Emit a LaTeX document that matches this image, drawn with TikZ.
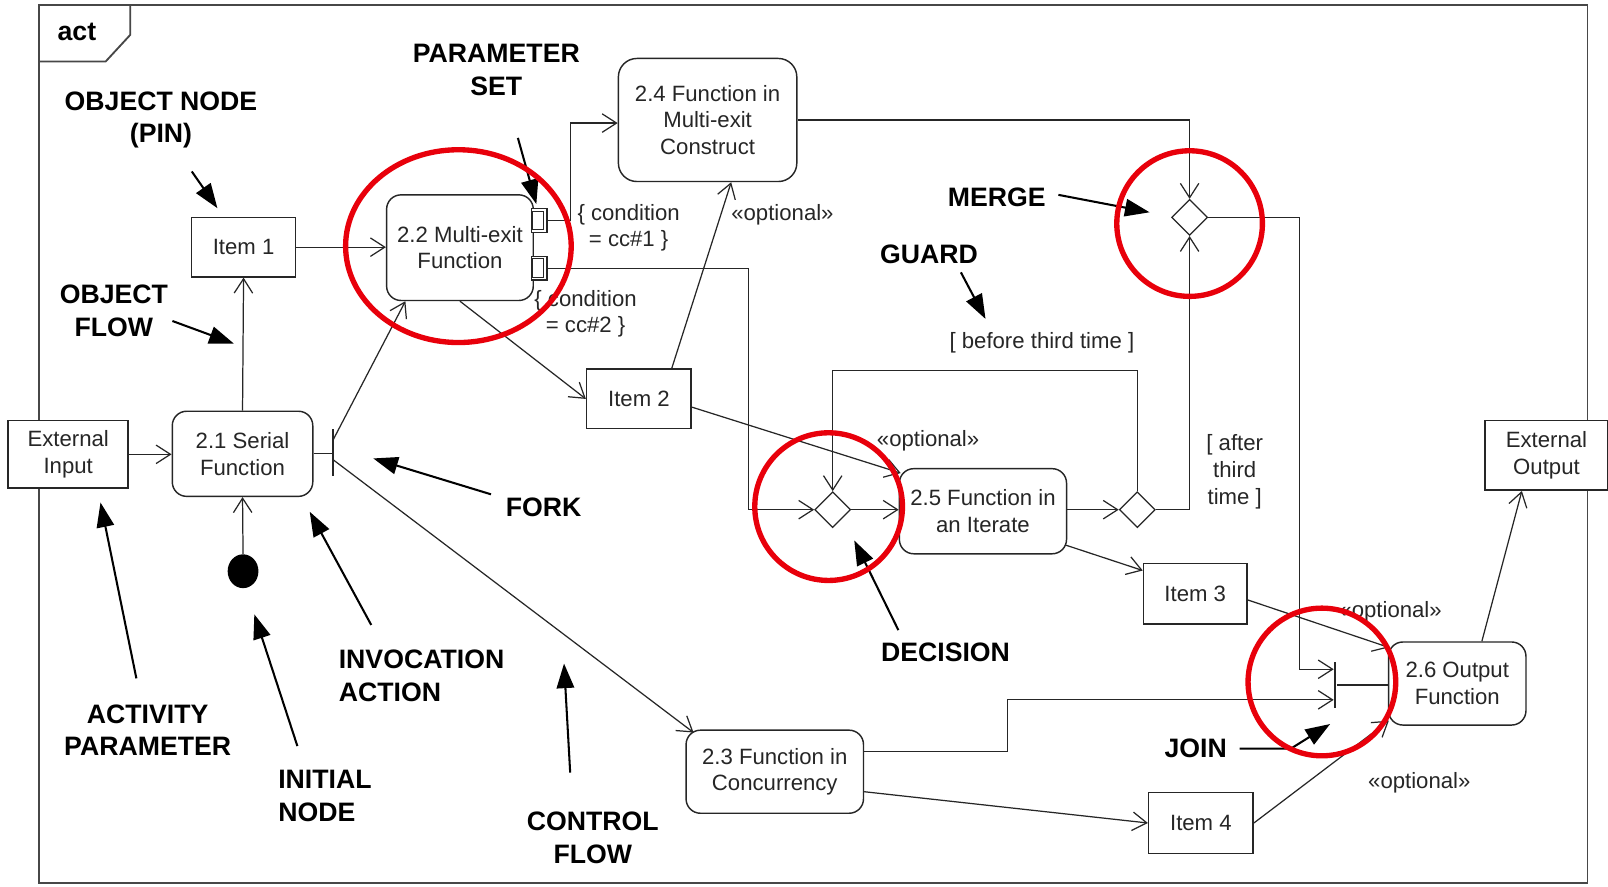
\documentclass[tikz,border=0pt]{standalone}
\usepackage{fontspec}
\setmainfont{Liberation Sans}
\usetikzlibrary{arrows.meta,shapes.geometric,calc}
\definecolor{ink}{HTML}{262626}
\definecolor{ringred}{HTML}{E8000B}

\tikzset{
  actbox/.style={draw=ink, line width=0.7pt, rounded corners=7pt, fill=white,
    align=center, inner sep=0pt, text=ink},
  objbox/.style={draw=ink, line width=0.7pt, fill=white, align=center,
    inner sep=0pt, text=ink},
  ctrl/.style={draw=ink, line width=0.6pt, -{Straight Barb[length=7pt,width=9pt]}},
  plain/.style={draw=ink, line width=0.6pt},
  gate/.style={diamond, draw=ink, line width=0.6pt, fill=white,
    minimum width=17.5pt, minimum height=17.5pt, inner sep=0pt},
  bar/.style={fill=ink, minimum width=1.1pt, inner sep=0pt},
  tag/.style={text=ink, align=center, inner sep=0pt},
  callout/.style={draw=black, line width=1pt, -{Triangle[length=12pt,width=8.5pt]}},
  caption/.style={font=\bfseries\fontsize{13}{16}\selectfont, align=center,
    inner sep=0pt, text=black},
  halo/.style={draw=ringred, line width=2.6pt},
  framing/.style={draw=ink!85, line width=0.9pt},
}

\begin{document}
\begin{tikzpicture}[x=0.5pt, y=-0.5pt, font=\fontsize{10.8}{13}\selectfont]
\fill[white] (0,0) rectangle (1568,864);
\useasboundingbox (0,0) rectangle (1568,864);

% activity frame with its name tab
\draw[framing] (38,5) rectangle (1548,861);
\draw[framing] (38,60) -- (103,60) -- (127,34) -- (127,5);
\node[caption] (cAct) at (75,31) {act};

% activity parameters, actions and object nodes
\node[objbox, minimum width=58.5pt, minimum height=33pt] (extin) at (66.5,443) {External\\Input};
\node[actbox, minimum width=68.5pt, minimum height=41.5pt] (a21) at (236.5,442.5) {2.1 Serial\\Function};
\node[ellipse, fill=black, minimum width=15pt, minimum height=16.5pt, inner sep=0pt] (init) at (237,557) {};
\node[objbox, minimum width=50.5pt, minimum height=29pt] (item1) at (237.5,241) {Item 1};
\node[actbox, minimum width=71.5pt, minimum height=51.5pt] (a22) at (448.5,241.5) {2.2 Multi-exit\\Function};
\node[objbox, minimum width=7.5pt, minimum height=11.5pt] (pin1) at (526,215) {};
\node[objbox, minimum width=7.5pt, minimum height=11.5pt] (pin2) at (526,261.5) {};
\draw[ink, line width=0.5pt] ($(pin1.north west)+(1,3)$) rectangle ($(pin1.south east)+(-4,-3)$);
\draw[ink, line width=0.5pt] ($(pin2.north west)+(1,3)$) rectangle ($(pin2.south east)+(-4,-3)$);
\node[actbox, rounded corners=9pt, minimum width=87pt, minimum height=60pt] (a24) at (690,117) {2.4 Function in\\Multi-exit\\Construct};
\node[objbox, minimum width=51pt, minimum height=29pt] (item2) at (623,389) {Item 2};
\node[gate] (d1) at (812,497) {};
\node[actbox, minimum width=81.5pt, minimum height=41.5pt] (a25) at (958.5,498.5) {2.5 Function in\\an Iterate};
\node[gate] (d2) at (1109,497) {};
\node[gate] (merge) at (1160,212) {};
\node[actbox, minimum width=86.5pt, minimum height=40.5pt] (a23) at (755.5,752.5) {2.3 Function in\\Concurrency};
\node[actbox, minimum width=67pt, minimum height=40.5pt] (a26) at (1421,666.5) {2.6 Output\\Function};
\node[objbox, minimum width=50.5pt, minimum height=29.5pt] (item3) at (1165.5,579) {Item 3};
\node[objbox, minimum width=51pt, minimum height=29.5pt] (item4) at (1171,802.5) {Item 4};
\node[objbox, minimum width=60pt, minimum height=34pt] (extout) at (1508,444) {External\\Output};
\node[bar, minimum height=23pt] (fork) at (325,441) {};
\node[bar, minimum height=22pt] (join) at (1302,668) {};

% flows
\draw[ctrl] (extin.east) -- (extin.east -| a21.west);
\draw[ctrl] (init.north) -- (a21.south);
\draw[ctrl] (a21.north) -- (item1.south);
\draw[ctrl] (item1.east) -- (item1.east -| a22.west);
\draw[plain] (a21.east) -- (a21.east -| fork.west);
\draw[ctrl] ($(fork.north)+(0,11)$) -- ($(a22.south west)+(19,0)$);
\draw[ctrl] ($(fork.south)+(0,-16)$) -- ($(a23.north west)+(8,3)$);
\draw[ctrl] (pin1.east) -- ++(22,0) |- ($(a24.west)+(0,3)$);
\draw[ctrl] (pin2.east) -- ++(196,0) |- (d1.west);
\draw[ctrl] (a22.south) -- (item2.west);
\draw[ctrl] ($(item2.north)+(32,0)$) -- ($(a24.south)+(23,0)$);
\draw[ctrl] ($(item2.east)+(0,8)$) -- ($(a25.north west)+(2,5)$);
\draw[ctrl] (d1.east) -- (d1.east -| a25.west);
\draw[ctrl] (d1.east -| a25.east) -- (d2.west);
\draw[ctrl] (d2.north) -- ++(0,-118) -| (d1.north);
\draw[ctrl] (d2.east) -| (merge.south);
\draw[ctrl] (a24.east) -| (merge.north);
\draw[ctrl] (merge.east) -- ++(89,0) |- ($(join.north west)+(0,7)$);
\draw[ctrl] ($(a23.east)+(0,-19.5)$) -- ++(140,0) |- ($(join.south west)+(0,-8)$);
\draw[plain] (join.east) -- (join.east -| a26.west);
\draw[ctrl] ($(a25.south east)+(-1,-9)$) -- ($(item3.north west)+(0,7.5)$);
\draw[ctrl] ($(item3.east)+(0,6)$) -- ($(a26.north west)+(1,6)$);
\draw[ctrl] ($(a23.east)+(0,19.5)$) -- (item4.west);
\draw[ctrl] (item4.east) -- ($(a26.south west)+(1,-5)$);
\draw[ctrl] ($(a26.north)+(24,0)$) -- ($(extout.south)+(-24,0)$);

% guards and stereotypes
\node[tag] (g1) at (613,222) {\{ condition\\= cc\#1 \}};
\node[tag] (g2) at (571,306) {\{ condition\\= cc\#2 \}};
\node[tag] (o1) at (763,209) {«optional»};
\node[tag] (g3) at (1016,334) {[ before third time ]};
\node[tag] (o2) at (905,430) {«optional»};
\node[tag] (g4) at (1204,460) {[ after\\third\\time ]};
\node[tag] (o3) at (1356,597) {«optional»};
\node[tag] (o4) at (1384,763) {«optional»};

% element captions
\node[caption] (cPin) at (157,117) {OBJECT NODE\\(PIN)};
\node[caption] (cPset) at (484,68) {PARAMETER\\SET};
\node[caption] (cOflow) at (111,303) {OBJECT\\FLOW};
\node[caption] (cMerge) at (972,192) {MERGE};
\node[caption] (cGuard) at (906,248) {GUARD};
\node[caption] (cFork) at (530,495) {FORK};
\node[caption, align=left, anchor=west] (cInv) at (330,659) {INVOCATION\\ACTION};
\node[caption] (cActp) at (144,712) {ACTIVITY\\PARAMETER};
\node[caption, align=left, anchor=west] (cInit) at (271,776) {INITIAL\\NODE};
\node[caption] (cCtrl) at (578,817) {CONTROL\\FLOW};
\node[caption] (cDec) at (922,636) {DECISION};
\node[caption] (cJoin) at (1166,730) {JOIN};

% caption pointers
\coordinate (tPin) at (212,203);
\coordinate (tPset) at (523,199);
\coordinate (tOflow) at (228,335);
\coordinate (tMerge) at (1121,207);
\coordinate (tGuard) at (961,311);
\coordinate (tFork) at (364,447);
\coordinate (tInv) at (302,499);
\coordinate (tActp) at (98,490);
\coordinate (tInit) at (248,599);
\coordinate (tCtrl) at (550,647);
\coordinate (tDec) at (833,527);
\coordinate (tJoin) at (1297,706);
\draw[callout] ($(cPin.south)+(30,22)$) -- (tPin);
\draw[callout] ($(cPset.south)+(21,41)$) -- (tPset);
\draw[callout] ($(cOflow.east)+(4,10)$) -- (tOflow);
\draw[callout] ($(cMerge.east)+(12,-2)$) -- (tMerge);
\draw[callout] ($(cGuard.south)+(31,8)$) -- (tGuard);
\draw[callout] ($(cFork.west)+(-14,-13)$) -- (tFork);
\draw[callout] ($(cInv.north west)+(32,-24)$) -- (tInv);
\draw[callout] ($(cActp.north)+(-11,-25)$) -- (tActp);
\draw[callout] ($(cInit.north west)+(19,-23)$) -- (tInit);
\draw[callout] ($(cCtrl.north)+(-22,-38)$) -- (tCtrl);
\draw[callout] ($(cDec.north)+(-46,-12)$) -- (tDec);
\draw[callout] (cJoin.east) ++(12,0) -- ++(50,0) -- (tJoin);

% highlight rings
\draw[halo] (447,240) ellipse [x radius=55pt, y radius=47pt];
\draw[halo] (1160,218) circle [radius=35.5pt];
\draw[halo] (808,494) circle [radius=36pt];
\draw[halo] (1289,665) circle [radius=36pt];
\end{tikzpicture}
\end{document}
